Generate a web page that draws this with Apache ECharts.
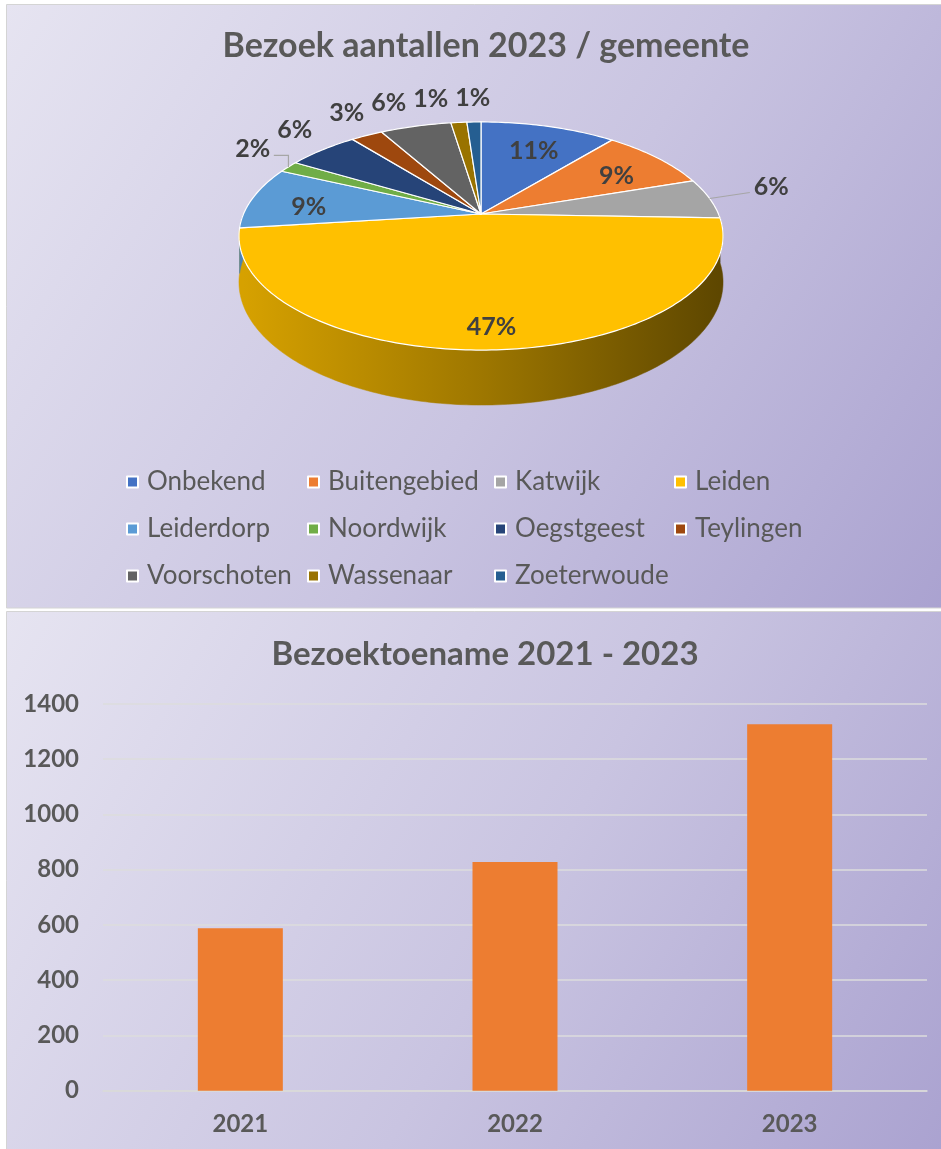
<!DOCTYPE html>
<html><head><meta charset="utf-8">
<script src="https://cdn.jsdelivr.net/npm/echarts@6/dist/echarts.min.js"></script>
<style>html,body{margin:0;padding:0;background:#fff}#c{width:941px;height:1149px}</style>
</head><body><div id="c"></div>
<script>
// ---------- data ----------
const regions = ['Onbekend','Buitengebied','Katwijk','Leiden','Leiderdorp','Noordwijk','Oegstgeest','Teylingen','Voorschoten','Wassenaar','Zoeterwoude'];
const visits2023 = [145,118,76,630,118,22,76,34,76,17,15];
const regionColors = ['#4472C4','#ED7D31','#A5A5A5','#FFC000','#5B9BD5','#70AD47','#264478','#9E480E','#636363','#997300','#255E91'];
const years = ['2021','2022','2023'];
const yearTotals = [588, 828, 1327];
const yTickMin = 0, yTickMax = 1400, yTickStep = 200;

// ---------- layout ----------
const FONT = "Lato, 'Open Sans', sans-serif";
const TXT = '#595959';
const PIE = {cx: 481, cy: 214, A: 237.5, B: 109.8, k: 0.193, D: 44.4};
const LABEL_FS = 25;
const legendColumns = [[0,4,8],[1,5,9],[2,6,10],[3,7]];
const legendLeft = [126, 307, 494, 674];

const total = visits2023.reduce((a,b)=>a+b,0);
const sliceAngles = [];
{ let acc = 0; visits2023.forEach(v => { const a0 = acc/total*360; acc += v; sliceAngles.push([a0, acc/total*360]); }); }

function P(thDeg, r, dz) {
  const t = thDeg*Math.PI/180;
  const u = r*Math.sin(t), v = -r*Math.cos(t);
  const s = 1/(1 - PIE.k*v);
  return [PIE.cx + PIE.A*u*s, PIE.cy + (PIE.B*v + dz*PIE.D)*s];
}
function darken(hex, f) {
  const n = parseInt(hex.slice(1),16);
  const r = Math.round(((n>>16)&255)*(1-f)), g = Math.round(((n>>8)&255)*(1-f)), b = Math.round((n&255)*(1-f));
  return 'rgb('+r+','+g+','+b+')';
}

// ---------- label layout (computed from the slice angles) ----------
const labelLayout = visits2023.map((v, i) => {
  const [a0, a1] = sliceAngles[i];
  const mid = (a0 + a1)/2;
  const pct = Math.round(v/total*100);
  const text = pct + '%';
  const halfW = text.length*LABEL_FS*0.36;
  const um = Math.sin(mid*Math.PI/180);
  if (pct >= 8) {
    const r = pct > 30 ? 0.83 : 0.75;
    const [x, y] = P(mid, r, 0);
    return {text, x, y: y + 5, inside: true, halfW, um, mid};
  }
  const [x, y] = P(mid, 1.2, 0);
  return {text, x, y: y - 9, inside: false, halfW, um, mid, alignLeft: um > 0.5};
});
// push overlapping outside labels on the upper-left side apart (right to left)
{
  let prev = null;
  for (let i = labelLayout.length - 1; i >= 0; i--) {
    const L = labelLayout[i];
    if (L.inside || L.alignLeft) continue;
    if (prev && Math.abs(prev.y - L.y) < LABEL_FS) {
      const maxX = prev.x - prev.halfW - L.halfW - 6;
      if (L.x > maxX) L.x = maxX;
    }
    prev = L;
  }
}

function renderSide(params, api) {
  const i = params.dataIndex;
  let [a0, a1] = sliceAngles[i];
  a0 = Math.max(a0, 90); a1 = Math.min(a1, 270);
  if (a1 <= a0) return {type:'group', children:[]};
  const pts = [];
  for (let a = a0; a < a1; a += 1) pts.push(P(a,1,0));
  pts.push(P(a1,1,0));
  for (let a = a1; a > a0; a -= 1) pts.push(P(a,1,1));
  pts.push(P(a0,1,1));
  const base = regionColors[i];
  const fill = new echarts.graphic.LinearGradient(PIE.cx - PIE.A, 0, PIE.cx + PIE.A, 0, [
    {offset:0, color: darken(base, 0.16)},
    {offset:0.5, color: darken(base, 0.38)},
    {offset:1, color: darken(base, 0.63)}
  ], true);
  return {type:'polygon', shape:{points: pts}, style:{fill: fill, stroke: fill, lineWidth: 0.5}};
}

function renderTop(params, api) {
  const i = params.dataIndex;
  const [a0, a1] = sliceAngles[i];
  const pts = [[PIE.cx, PIE.cy]];
  for (let a = a0; a < a1; a += 1) pts.push(P(a,1,0));
  pts.push(P(a1,1,0));
  return {type:'polygon', shape:{points: pts}, style:{fill: regionColors[i], stroke:'#ffffff', lineWidth:1.2, lineJoin:'round'}};
}

function renderLabel(params, api) {
  const i = params.dataIndex;
  const L = labelLayout[i];
  const font = 'bold '+LABEL_FS+'px '+FONT;
  const children = [{type:'text', style:{text: L.text, x: L.x, y: L.y, fill:'#404040', font,
    align: L.alignLeft ? 'left' : 'center', verticalAlign:'middle'}}];
  if (!L.inside && Math.abs(L.um) > 0.85) {
    const [rx, ry] = P(L.mid, 1, 0);
    const ly = L.y + 6;
    const edge = L.alignLeft ? L.x - 4 : (L.um < 0 ? L.x + L.halfW + 3 : L.x - L.halfW - 3);
    const pts = Math.abs(ry - ly) > 8 ? [[rx, ry],[rx, ly],[edge, ly]] : [[rx, ry],[edge, ly]];
    children.push({type:'polyline', shape:{points: pts}, style:{stroke:'#a6a6a6', lineWidth:1.2, fill:null}});
  }
  return {type:'group', children};
}

const pieItems = visits2023.map((v,i)=>({name: regions[i], value: [i, v]}));

const chart = echarts.init(document.getElementById('c'), null, {renderer:'canvas'});
const panelFill = () => new echarts.graphic.LinearGradient(0,0,1,1,[
  {offset:0, color:'#e6e4f1'}, {offset:0.55, color:'#c9c4e1'}, {offset:1, color:'#aaa2d0'}
]);
chart.setOption({
  animation: false,
  graphic: {elements: [
    {type:'rect', z:-100, shape:{x:6.5, y:4.5, width:940, height:603.5}, style:{fill: panelFill(), stroke:'#d4d4d4', lineWidth:1}},
    {type:'rect', z:-100, shape:{x:6.5, y:611.5, width:940, height:540}, style:{fill: panelFill(), stroke:'#d4d4d4', lineWidth:1}}
  ]},
  title: [
    {text:'Bezoek aantallen 2023 / gemeente', left: 481, top: 21, textAlign:'center', textStyle:{fontFamily: FONT, fontWeight:'bold', fontSize:34, lineHeight:40, color: TXT}},
    {text:'Bezoektoename 2021 - 2023', left: 480, top: 629, textAlign:'center', textStyle:{fontFamily: FONT, fontWeight:'bold', fontSize:33, lineHeight:40, color: TXT}}
  ],
  legend: legendColumns.map((col, j) => ({
    orient:'vertical', left: legendLeft[j], top: 468, padding: 0, itemGap: 19, itemWidth: 11, itemHeight: 11,
    icon:'rect', selectedMode:false, data: col.map(i => regions[i]),
    itemStyle:{borderColor:'#ffffff', borderWidth:2},
    textStyle:{fontFamily: FONT, fontSize: 26, color: TXT, lineHeight: 28, padding:[0,0,0,4]}
  })),
  grid: {left: 103, right: 14, top: 704, bottom: 58.3, containLabel:false, outerBoundsMode:'none'},
  xAxis: {type:'category', data: years, axisTick:{show:false},
    axisLine:{lineStyle:{color:'#d9d9d9', width:1.5}},
    axisLabel:{color: TXT, fontFamily: FONT, fontWeight:'bold', fontSize:24, margin:22}},
  yAxis: {type:'value', min: yTickMin, max: yTickMax, interval: yTickStep,
    axisLine:{show:false}, axisTick:{show:false},
    splitLine:{lineStyle:{color:'#dcdcdc', width:1.5}},
    axisLabel:{color: TXT, fontFamily: FONT, fontWeight:'bold', fontSize:24, margin:24, formatter: v => String(v)}},
  series: [
    {type:'pie', name:'legend', radius:[0,0], center:[-200,-200], silent:true, label:{show:false}, labelLine:{show:false},
      data: visits2023.map((v,i)=>({name: regions[i], value: v, itemStyle:{color: regionColors[i]}}))},
    {type:'custom', name:'pieSide', coordinateSystem:'none', z:3, silent:true, renderItem: renderSide, data: pieItems},
    {type:'custom', name:'pieTop', coordinateSystem:'none', z:4, silent:true, renderItem: renderTop, data: pieItems},
    {type:'custom', name:'pieLabel', coordinateSystem:'none', z:5, silent:true, renderItem: renderLabel, data: pieItems},
    {type:'bar', name:'Bezoek', data: yearTotals, barWidth: 85, itemStyle:{color:'#ED7D31'}, silent:true}
  ]
});
</script></body></html>
